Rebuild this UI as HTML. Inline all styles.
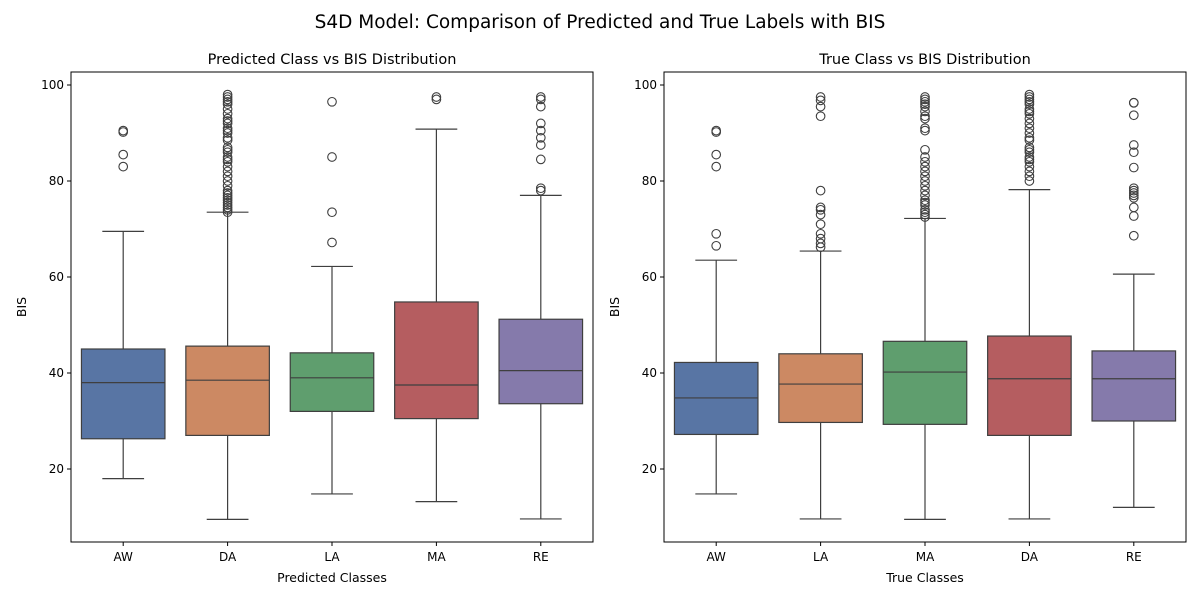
<!DOCTYPE html>
<html><head><meta charset="utf-8"><style>
body{margin:0;background:#fff;font-family:"Liberation Sans","DejaVu Sans",sans-serif}
</style></head><body>
<svg id="chart" width="1200" height="600" xmlns="http://www.w3.org/2000/svg" font-family="DejaVu Sans, Liberation Sans, sans-serif">
<rect width="1200" height="600" fill="#fff"/>
<text x="600" y="28" text-anchor="middle" font-size="18.5" fill="#000">S4D Model: Comparison of Predicted and True Labels with BIS</text>
</svg>
<script>
const leftCats=["AW","DA","LA","MA","RE"];
const rightCats=["AW","LA","MA","DA","RE"];
// [whislo,q1,med,q3,whishi]
const leftStats=[[18,26.3,38,45,69.5],[9.5,27,38.5,45.6,73.5],[14.8,32,39,44.2,62.2],[13.2,30.5,37.5,54.8,90.8],[9.6,33.6,40.5,51.2,77]];
const rightStats=[[14.8,27.2,34.8,42.2,63.5],[9.6,29.7,37.7,44,65.4],[9.5,29.3,40.2,46.6,72.2],[9.6,27,38.8,47.7,78.2],[12,30,38.8,44.6,60.6]];
const leftOut=[[83,85.5,90.2,90.5],
[73.5,74,74.5,75,75.5,76,76.5,77,77.5,78,79,80,81,82,83,84,84.5,85,86,86.5,87,88.5,89,90,90.5,91,92,92.5,93,94,95,96,96.5,97,97.5,98],
[67.2,73.5,85,96.5],[97,97.5],[78,78.5,84.5,87.5,89,90.5,92,95.5,97,97.5]];
const rightOut=[[66.5,69,83,85.5,90.2,90.5],
[66.2,67,68,69,71,73,74,74.5,78,93.5,95.5,96.8,97.5],
[72.5,73,73.5,74,75,75.5,76,77,78,79,80,81,82,83,84,85,86.5,90.5,91,93,93.5,94.5,95.5,96,96.5,97,97.5],
[80,81,82,83,84,84.5,85,86,86.5,87,88.5,89,90,91,92,93,94,94.5,95,96,96.5,97,97.5,98],
[68.6,72.7,74.5,76.5,77,77.5,78,78.5,82.8,86,87.5,93.7,96.3,96.3]];
const yTicks=[20,40,60,80,100];
const colors=["#5875a4","#cc8963","#5f9e6e","#b55d60","#857aab"];
const svg=document.getElementById('chart');
const NS="http://www.w3.org/2000/svg";
function mk(tag,attrs,parent){const e=document.createElementNS(NS,tag);for(const k in attrs)e.setAttribute(k,attrs[k]);(parent||svg).appendChild(e);return e;}
const plotTop=72,plotBot=542;
function yS(v){return 469-(v-20)*4.8;}
function panel(x0,x1,cats,stats,outs,title,xlabel,key){
  const g=mk('g',{});
  
  
  const w=x1-x0, step=w/cats.length;
  const xS=i=>x0+step*(i+0.5);
  const bw=step*0.8;
  cats.forEach((c,i)=>{
    const s=stats[i],cx=xS(i);
    const bg=mk('g',{},g);
    
    
    mk('line',{x1:cx,x2:cx,y1:yS(s[0]),y2:yS(s[1]),stroke:'#3f3f3f','stroke-width':1.2},bg);
    mk('line',{x1:cx,x2:cx,y1:yS(s[3]),y2:yS(s[4]),stroke:'#3f3f3f','stroke-width':1.2},bg);
    mk('line',{x1:cx-bw/4,x2:cx+bw/4,y1:yS(s[0]),y2:yS(s[0]),stroke:'#3f3f3f','stroke-width':1.2},bg);
    mk('line',{x1:cx-bw/4,x2:cx+bw/4,y1:yS(s[4]),y2:yS(s[4]),stroke:'#3f3f3f','stroke-width':1.2},bg);
    mk('rect',{x:cx-bw/2,y:yS(s[3]),width:bw,height:yS(s[1])-yS(s[3]),fill:colors[i],stroke:'#3f3f3f','stroke-width':1.2},bg);
    mk('line',{x1:cx-bw/2,x2:cx+bw/2,y1:yS(s[2]),y2:yS(s[2]),stroke:'#3f3f3f','stroke-width':1.2},bg);
    outs[i].forEach(v=>{const o=mk('circle',{cx:cx,cy:yS(v),r:4.3,fill:'none',stroke:'#3f3f3f','stroke-width':1.1},bg);
      
      });
    mk('line',{x1:cx,x2:cx,y1:plotBot,y2:plotBot+4,stroke:'#000'},g);
    const t=mk('text',{x:cx,y:plotBot+19,'text-anchor':'middle','font-size':12},g);t.textContent=c;
    
    
  });
  yTicks.forEach(v=>{
    mk('line',{x1:x0-4,x2:x0,y1:yS(v),y2:yS(v),stroke:'#000'},g);
    const t=mk('text',{x:x0-7,y:yS(v)+4,'text-anchor':'end','font-size':12},g);t.textContent=v;
    
    
  });
  mk('rect',{x:x0,y:plotTop,width:w,height:plotBot-plotTop,fill:'none',stroke:'#000','stroke-width':1},g);
  const tt=mk('text',{x:(x0+x1)/2,y:64,'text-anchor':'middle','font-size':14.5},g);tt.textContent=title;
  
  
  const xl=mk('text',{x:(x0+x1)/2,y:582,'text-anchor':'middle','font-size':12.5},g);xl.textContent=xlabel;
  
  
  const yl=mk('text',{x:x0-45,y:307,'text-anchor':'middle','font-size':12.5,transform:`rotate(-90 ${x0-45} 307)`},g);yl.textContent='BIS';
  
  
}
panel(71,593,leftCats,leftStats,leftOut,'Predicted Class vs BIS Distribution','Predicted Classes','predicted');
panel(664,1186,rightCats,rightStats,rightOut,'True Class vs BIS Distribution','True Classes','true');
</script>
</body></html>
